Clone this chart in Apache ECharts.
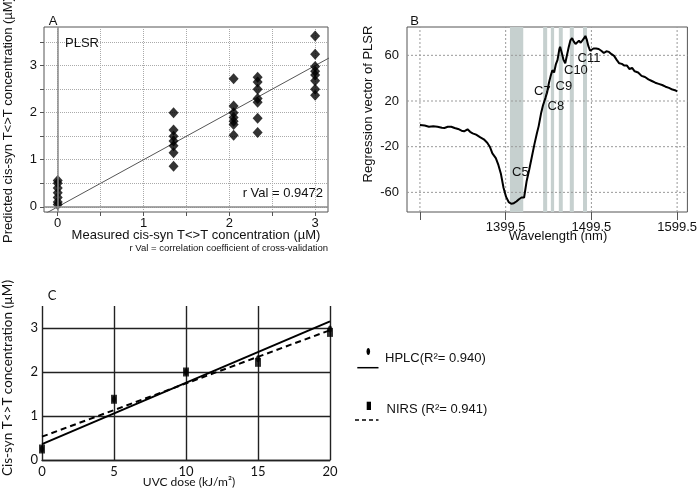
<!DOCTYPE html>
<html><head><meta charset="utf-8">
<script src="https://cdn.jsdelivr.net/npm/echarts@6/dist/echarts.min.js"></script>
<style>html,body{margin:0;padding:0;background:#fff}#c{width:700px;height:489px}</style>
</head><body><div id="c"></div>
<script>
// ---- Panel A data ----
const measuredA = [0, 1.35, 2.05, 2.33, 3.0];
const predictedA = [
  [0.05, 0.1, 0.2, 0.3, 0.4, 0.5, 0.56],
  [0.86, 1.15, 1.3, 1.4, 1.5, 1.63, 2.0],
  [1.52, 1.75, 1.82, 1.9, 2.0, 2.14, 2.72],
  [1.58, 1.88, 2.22, 2.3, 2.5, 2.65, 2.75],
  [2.37, 2.5, 2.68, 2.8, 2.88, 2.98, 3.24, 3.63]
];
const fitA = [[-0.3, -0.3], [3.3, 3.3]];
const gridValsA = [0, 0.5, 1, 1.5, 2, 2.5, 3, 3.5];
const tickLabelsA = [0, 1, 2, 3];

// ---- Panel B data ----
const wavelengthB = [1299.5,1305,1310,1315,1320,1325,1328,1332,1336,1340,1344,1348,1351,1355,1358,1361,1365,1370,1374,1378,1381,1384,1388,1391,1394,1397,1400,1403,1406,1409,1412,1415,1418,1419,1421,1424,1427,1430,1433,1436,1438,1441,1443,1446,1448,1450,1452,1454,1456,1458,1460,1462,1463,1465,1467,1469,1471,1473,1475,1477,1479,1481,1483,1485,1487,1489,1491,1492.5,1494,1496,1498,1500,1502,1505,1508,1511,1514,1517,1520,1523,1526,1529,1532,1535,1538,1541,1544,1547,1550,1554,1558,1562,1566,1570,1574,1578,1582,1586,1590,1594,1597,1599.5];
const regressionB = [-1,-1.5,-2.5,-2.2,-2.5,-3.5,-3.6,-2.6,-2.5,-3.6,-4.5,-6,-6.5,-4.8,-7,-8.3,-9.5,-11.8,-13.5,-16.5,-20,-25.8,-30,-36,-44,-56,-64,-68.5,-70,-69.5,-68,-66,-64.5,-63,-64.5,-50,-40,-29,-18,-8,-2,10,16,23,28,36,42,47,45,52,56,65,67.5,62,56,53,60,67,73,75,72,70,71,72.8,71,70.5,75,77,74,68,64,65,66,66,65.5,64,62,63.5,63,61,59.5,56,53,52.5,51,51,48,49,46,45,42,41,39,37.5,36,35,34,32.5,31.5,30,29.5,28.5];
const bandsB = [[1404.5,1420],[1443.2,1447.9],[1452.2,1456],[1461.5,1466.1],[1474.3,1479],[1489.7,1494.4]];
const bandLabelsB = ['C5','C7','C8','C9','C10','C11'];
const xTicksB = [1299.5, 1399.5, 1499.5, 1599.5];
const xLabelsB = [1399.5, 1499.5, 1599.5];
const yTicksB = [-60, -20, 20, 60];
const xRangeB = [1284.4, 1611.5];
const yRangeB = [-77.2, 84.8];

// ---- Panel C data ----
const doseC = [0, 5, 10, 15, 20];
const hplcC = [0.25, 1.38, 2.0, 2.3, 2.98];
const nirsC = [0.25, 1.38, 2.0, 2.22, 2.9];
const hplcFitC = [[0, 0.36], [20, 3.15]];
const nirsFitC = [[0, 0.53], [20, 2.95]];
const yTicksC = [0, 1, 2, 3];
const legendC = ['HPLC(R²= 0.940)', 'NIRS (R²= 0.941)'];

const F = '"Liberation Sans", Arial, sans-serif';
const FC = 'Lato, "Liberation Sans", sans-serif';
const TXT = '#111';

const scatterA = [];
measuredA.forEach((m, i) => predictedA[i].forEach(v => scatterA.push([m, v])));
const curveB = wavelengthB.map((w, i) => [w, regressionB[i]]);

function txt(x, y, text, opts) {
  opts = opts || {};
  return {
    type: 'text', x: x, y: y, rotation: opts.rot || 0, z: 100,
    style: {
      text: text, fill: opts.color || TXT,
      font: (opts.size || 13) + 'px ' + (opts.family || F),
      align: opts.align || 'left', verticalAlign: 'middle'
    }
  };
}

// dotted reference grid lines for panel B, built from tick values
const gridSeriesB = xTicksB.map(v => [[v, yRangeB[0]], [v, yRangeB[1]]])
  .concat(yTicksB.map(v => [[xRangeB[0], v], [xRangeB[1], v]]))
  .map(d => ({type: 'line', xAxisIndex: 1, yAxisIndex: 1, data: d, symbol: 'none', silent: true, z: 1,
              clip: false, lineStyle: {color: '#999', width: 1, type: [2, 2]}}));

const chart = echarts.init(document.getElementById('c'), null, {renderer: 'canvas'});
const option = {
  animation: false,
  backgroundColor: '#fff',
  grid: [
    {left: 44, top: 27, width: 284, height: 185, show: true, borderColor: '#555', borderWidth: 1, backgroundColor: 'transparent'},
    {left: 407, top: 27, width: 282, height: 185, show: true, borderColor: '#555', borderWidth: 1, backgroundColor: 'transparent'},
    {left: 42, top: 306, width: 288, height: 154, show: false}
  ],
  xAxis: [
    {gridIndex: 0, type: 'value', min: -0.16, max: 3.15,
     axisLine: {show: false, onZero: false},
     axisTick: {show: true, customValues: gridValsA, length: 4, lineStyle: {color: '#555'}},
     axisLabel: {customValues: tickLabelsA, fontSize: 13, color: TXT, fontFamily: F, margin: 5},
     splitLine: {show: true, lineStyle: {type: 'dotted', color: '#aaa', width: 1}}},
    {gridIndex: 1, type: 'value', min: xRangeB[0], max: xRangeB[1],
     axisLine: {show: false, onZero: false},
     axisTick: {show: true, customValues: xTicksB, length: 8, lineStyle: {color: '#555'}},
     axisLabel: {customValues: xLabelsB, fontSize: 13, color: TXT, fontFamily: F, margin: 9,
                 formatter: v => Number(v).toFixed(1)},
     splitLine: {show: false}},
    {gridIndex: 2, type: 'value', min: 0, max: 20, interval: 5,
     axisLine: {show: true, onZero: false, lineStyle: {color: '#222', width: 1.4}},
     axisTick: {show: false},
     axisLabel: {fontSize: 13, color: TXT, fontFamily: FC, margin: 5},
     splitLine: {show: true, lineStyle: {type: 'solid', color: '#222', width: 1.4}}}
  ],
  yAxis: [
    {gridIndex: 0, type: 'value', min: -0.11, max: 3.82,
     axisLine: {show: false, onZero: false},
     axisTick: {show: true, customValues: gridValsA, length: 4, lineStyle: {color: '#555'}},
     axisLabel: {customValues: tickLabelsA, fontSize: 13, color: TXT, fontFamily: F, margin: 7},
     splitLine: {show: true, lineStyle: {type: 'dotted', color: '#aaa', width: 1}}},
    {gridIndex: 1, type: 'value', min: yRangeB[0], max: yRangeB[1],
     axisLine: {show: false, onZero: false},
     axisTick: {show: false, customValues: yTicksB},
     axisLabel: {customValues: yTicksB, fontSize: 13, color: TXT, fontFamily: F, margin: 8},
     splitLine: {show: false}},
    {gridIndex: 2, type: 'value', min: 0, max: 3.5,
     axisLine: {show: false, onZero: false},
     axisTick: {show: false, customValues: yTicksC},
     axisLabel: {customValues: yTicksC, fontSize: 13, color: TXT, fontFamily: FC, margin: 4},
     splitLine: {show: true, lineStyle: {type: 'solid', color: '#222', width: 1.4}}}
  ],
  series: [
    {type: 'line', xAxisIndex: 0, yAxisIndex: 0, data: fitA, symbol: 'none', z: 2,
     lineStyle: {color: '#555', width: 1}, silent: true,
     markLine: {silent: true, symbol: ['none', 'none'], label: {show: false},
       lineStyle: {color: '#8a8a8a', width: 1.5, type: 'solid'},
       data: [{xAxis: 0}, {yAxis: 0}]}},
    {type: 'scatter', xAxisIndex: 0, yAxisIndex: 0, data: scatterA, symbol: 'diamond',
     symbolSize: [10, 11], itemStyle: {color: '#000'}, z: 4}
  ].concat(gridSeriesB).concat([
    {type: 'line', xAxisIndex: 1, yAxisIndex: 1, data: curveB, symbol: 'none', z: 3,
     lineStyle: {color: '#000', width: 2},
     markArea: {silent: true, itemStyle: {color: '#c6d0cf', opacity: 1},
       data: bandsB.map(b => [{xAxis: b[0]}, {xAxis: b[1]}])}},
    {type: 'line', xAxisIndex: 2, yAxisIndex: 2, data: hplcFitC, symbol: 'none', z: 3,
     lineStyle: {color: '#000', width: 2}},
    {type: 'line', xAxisIndex: 2, yAxisIndex: 2, data: nirsFitC, symbol: 'none', z: 3,
     lineStyle: {color: '#000', width: 2, type: [6, 4]}},
    {type: 'scatter', xAxisIndex: 2, yAxisIndex: 2, data: doseC.map((d, i) => [d, hplcC[i]]),
     symbol: 'circle', symbolSize: [4, 7], itemStyle: {color: '#000'}, z: 5},
    {type: 'scatter', xAxisIndex: 2, yAxisIndex: 2, data: doseC.map((d, i) => [d, nirsC[i]]),
     symbol: 'rect', symbolSize: [6, 9], itemStyle: {color: '#000'}, z: 6}
  ]),
  graphic: [
    txt(53, 21, 'A', {align: 'center'}),
    txt(414.5, 21, 'B', {align: 'center'}),
    txt(52, 296, 'C', {align: 'center', family: FC}),
    txt(65, 43, 'PLSR'),
    txt(323, 193, 'r Val = 0.9472', {align: 'right'}),
    txt(196, 235.5, 'Measured cis-syn T<>T concentration (µM)', {align: 'center'}),
    txt(328, 248, 'r Val = correlation coefficient of cross-validation', {align: 'right', size: 9.5}),
    txt(8, 120, 'Predicted cis-syn T<>T concentration (µM)', {align: 'center', rot: Math.PI / 2}),
    txt(368, 104, 'Regression vector of PLSR', {align: 'center', rot: Math.PI / 2}),
    txt(558, 236, 'Wavelength (nm)', {align: 'center'}),
    txt(8, 378, 'Cis-syn T<>T concentration (µM)', {align: 'center', rot: Math.PI / 2, family: FC, size: 13.5}),
    txt(189, 482, 'UVC dose (kJ/m²)', {align: 'center', family: FC, size: 12}),
    txt(512, 172.5, bandLabelsB[0]),
    txt(534, 91.3, bandLabelsB[1]),
    txt(547.5, 106, bandLabelsB[2]),
    txt(555.5, 86, bandLabelsB[3]),
    txt(564, 70.7, bandLabelsB[4]),
    txt(577.5, 58.3, bandLabelsB[5]),
    // legend
    {type: 'ellipse', shape: {cx: 368.3, cy: 351.5, rx: 1.8, ry: 3.5}, style: {fill: '#000'}},
    {type: 'line', shape: {x1: 357.3, y1: 367.7, x2: 378.5, y2: 367.7}, style: {stroke: '#000', lineWidth: 1.5}},
    txt(385, 358.3, legendC[0]),
    {type: 'rect', shape: {x: 366.7, y: 401.7, width: 4.3, height: 8.3}, style: {fill: '#000'}},
    {type: 'line', shape: {x1: 355, y1: 420, x2: 378.5, y2: 420}, style: {stroke: '#000', lineWidth: 1.5, lineDash: [4, 3]}},
    txt(386.5, 409.3, legendC[1])
  ]
};
chart.setOption(option);
</script>
</body></html>
